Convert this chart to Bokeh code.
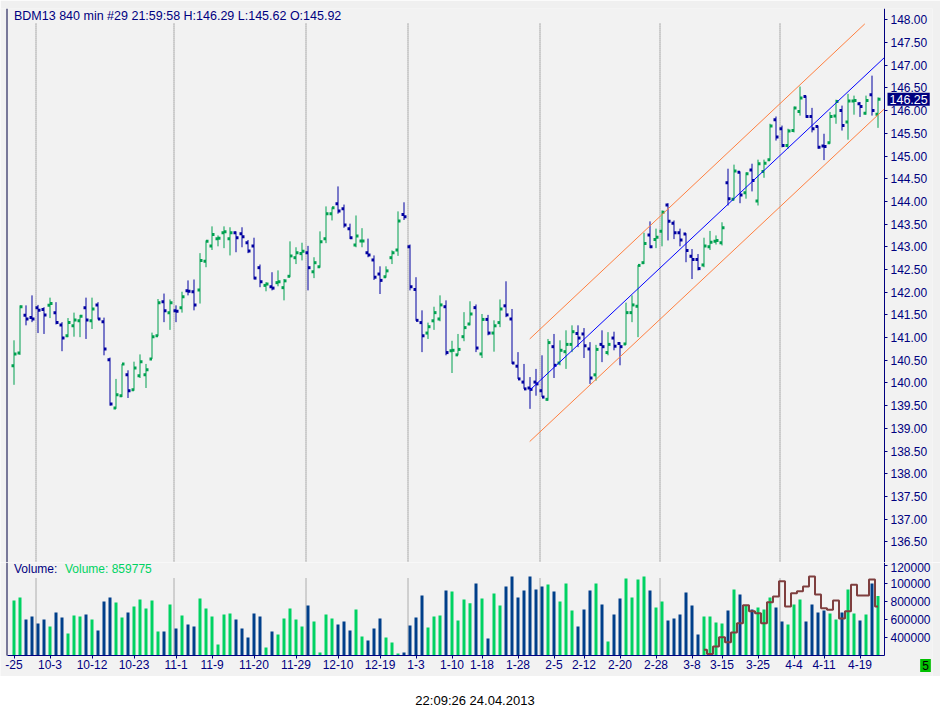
from bokeh.plotting import figure
from bokeh.models import Range1d, FixedTicker, PrintfTickFormatter, Label, Span, ColumnDataSource, Div
from bokeh.transform import dodge
from bokeh.layouts import column
from bokeh.embed import file_html
from bokeh.resources import INLINE

# ---------------- data ----------------
opens = [140.38, 140.66, 141.49, 141.44, 141.66, 141.62, 141.71, 141.55, 141.28, 141.04,
         141.26, 141.37, 141.66, 141.37, 141.72, 141.35, 140.51, 139.45, 139.72, 140.18,
         139.85, 140.16, 140.18, 140.53, 141.04, 141.79, 141.55, 141.59, 141.66, 142.03,
         142.01, 142.05, 142.68, 143.02, 143.18, 143.31, 143.18, 143.31, 143.29, 143.09,
         143.02, 142.54, 142.15, 142.12, 142.21, 142.10, 142.35, 142.76, 142.85, 142.87,
         142.45, 142.56, 143.18, 143.73, 143.95, 143.84, 143.40, 143.04, 143.13, 142.87,
         142.71, 142.40, 142.34, 142.76, 142.93, 143.71, 143.00, 142.06, 141.33, 141.10,
         141.37, 141.41, 141.68, 140.71, 140.62, 141.02, 141.30, 141.66, 140.64, 141.40,
         141.10, 141.33, 141.70, 141.41, 140.37, 140.02, 139.89, 140.02, 139.83, 139.64,
         140.80, 140.44, 140.69, 140.85, 141.09, 141.08, 140.75, 140.18, 140.85, 140.67,
         140.99, 140.87, 140.86, 141.55, 141.69, 142.65, 143.26, 143.16, 143.34, 143.92,
         143.52, 143.31, 143.28, 142.79, 142.72, 142.60, 143.00, 143.12, 143.09, 144.41,
         144.05, 144.64, 144.19, 144.69, 144.01, 144.66, 144.92, 145.80, 145.60, 145.23,
         145.56, 145.98, 146.31, 145.87, 145.65, 145.22, 145.29, 145.88, 146.00, 145.75,
         146.21, 146.15, 145.94, 146.35, 145.92]
highs = [140.94, 141.71, 141.71, 141.93, 141.72, 141.67, 141.88, 141.78, 141.34, 141.43,
         141.55, 141.50, 141.88, 141.88, 141.78, 141.44, 140.56, 140.09, 140.42, 140.28,
         140.47, 140.63, 140.42, 141.11, 141.85, 141.97, 141.84, 141.71, 142.01, 142.26,
         142.28, 142.86, 143.14, 143.45, 143.25, 143.45, 143.43, 143.34, 143.43, 143.15,
         143.20, 142.61, 142.22, 142.44, 142.48, 142.29, 143.12, 142.99, 143.09, 143.02,
         142.77, 143.34, 143.89, 143.87, 144.33, 143.93, 143.51, 143.69, 143.41, 143.18,
         142.81, 142.57, 142.57, 142.92, 143.78, 143.98, 143.05, 142.33, 141.60, 141.33,
         141.68, 141.93, 141.82, 140.93, 141.08, 141.56, 141.80, 141.73, 141.52, 141.50,
         141.38, 141.84, 142.24, 141.63, 140.68, 140.42, 140.13, 140.31, 140.61, 140.97,
         141.08, 140.94, 141.16, 141.27, 141.27, 141.21, 140.90, 140.84, 141.16, 141.12,
         141.13, 140.90, 141.77, 141.93, 142.60, 143.31, 143.56, 143.40, 143.80, 143.96,
         143.58, 143.40, 143.30, 142.95, 142.84, 143.20, 143.35, 143.25, 143.54, 144.72,
         144.81, 144.66, 144.64, 144.83, 144.92, 144.92, 145.71, 145.87, 145.67, 145.60,
         146.09, 146.53, 146.33, 146.06, 145.67, 145.49, 145.97, 146.24, 146.11, 146.37,
         146.33, 146.19, 146.33, 146.77, 146.29]
lows = [139.96, 140.62, 141.27, 141.34, 141.10, 141.08, 141.43, 141.29, 140.70, 141.01,
        141.02, 141.01, 140.97, 141.19, 141.40, 140.61, 139.50, 139.43, 139.69, 139.67,
        139.83, 140.11, 139.89, 140.53, 141.03, 141.34, 141.17, 141.34, 141.55, 141.93,
        141.60, 141.75, 142.55, 142.93, 143.01, 142.97, 142.81, 142.88, 142.99, 142.86,
        142.28, 142.11, 142.02, 142.04, 142.13, 141.82, 142.33, 142.62, 142.70, 142.04,
        142.31, 142.54, 143.08, 143.58, 143.73, 143.42, 143.17, 142.99, 142.99, 142.77,
        142.27, 141.96, 142.32, 142.62, 142.80, 143.59, 142.04, 141.37, 140.68, 140.97,
        141.17, 141.36, 140.61, 140.22, 140.61, 140.92, 141.27, 140.68, 140.55, 141.05,
        140.69, 141.23, 141.45, 140.42, 140.09, 139.87, 139.43, 139.72, 139.69, 139.61,
        140.11, 140.39, 140.31, 140.68, 140.79, 140.55, 139.98, 140.05, 140.46, 140.61,
        140.72, 140.39, 140.84, 141.34, 141.01, 142.62, 142.97, 142.97, 143.01, 143.14,
        143.17, 143.01, 142.66, 142.29, 142.48, 142.55, 142.93, 143.05, 143.03, 143.91,
        144.02, 143.96, 144.06, 144.22, 143.91, 144.52, 144.90, 145.34, 145.19, 145.16,
        145.52, 145.89, 145.84, 145.52, 145.16, 144.91, 145.27, 145.71, 145.56, 145.36,
        145.91, 145.86, 145.91, 145.89, 145.62]
closes = [140.64, 141.68, 141.41, 141.41, 141.60, 141.50, 141.75, 141.33, 140.99, 141.33,
          141.39, 141.47, 141.39, 141.63, 141.41, 140.75, 139.54, 139.74, 140.42, 139.83,
          140.33, 140.47, 140.29, 141.02, 141.77, 141.59, 141.77, 141.58, 141.90, 142.02,
          141.72, 142.70, 143.12, 143.27, 143.19, 143.33, 143.31, 143.20, 143.22, 142.91,
          142.31, 142.23, 142.18, 142.09, 142.23, 142.25, 142.80, 142.87, 142.90, 142.54,
          142.65, 143.11, 143.73, 143.86, 143.79, 143.48, 143.20, 143.24, 143.13, 142.82,
          142.33, 142.26, 142.47, 142.87, 143.57, 143.66, 142.12, 141.38, 141.04, 141.24,
          141.55, 141.72, 140.67, 140.72, 140.74, 141.22, 141.52, 140.77, 141.40, 141.10,
          141.26, 141.63, 141.50, 140.44, 140.09, 139.87, 139.86, 139.98, 139.69, 140.89,
          140.39, 140.72, 140.85, 141.13, 140.99, 140.82, 140.11, 140.74, 140.80, 140.85,
          140.81, 140.80, 141.55, 141.72, 142.59, 143.07, 143.00, 143.21, 143.76, 143.56,
          143.31, 143.15, 142.92, 142.72, 142.52, 143.02, 143.10, 143.14, 143.42, 144.06,
          144.67, 144.14, 144.61, 144.46, 144.83, 144.84, 145.66, 145.42, 145.23, 145.55,
          146.06, 146.28, 145.87, 145.60, 145.19, 145.21, 145.87, 146.20, 145.67, 146.21,
          146.22, 146.09, 146.22, 146.00, 146.25]
volumes = [811000, 844000, 600000, 633000, 556000, 600000, 522000, 678000, 622000, 444000,
           644000, 633000, 656000, 600000, 478000, 800000, 844000, 789000, 622000, 678000,
           744000, 822000, 722000, 811000, 467000, 467000, 767000, 500000, 644000, 544000,
           522000, 833000, 722000, 633000, 322000, 656000, 667000, 600000, 500000, 400000,
           667000, 633000, 289000, 467000, 433000, 611000, 722000, 600000, 522000, 756000,
           578000, 233000, 656000, 611000, 544000, 578000, 478000, 711000, 411000, 367000,
           500000, 611000, 400000, 344000, 222000, 233000, 533000, 622000, 867000, 511000,
           633000, 644000, 922000, 911000, 589000, 822000, 781000, 1000000, 833000, 389000,
           889000, 756000, 967000, 1078000, 844000, 922000, 1078000, 933000, 967000, 989000,
           911000, 800000, 1000000, 700000, 522000, 711000, 922000, 1000000, 767000, 356000,
           656000, 833000, 1056000, 844000, 1044000, 1078000, 922000, 733000, 800000, 589000,
           611000, 656000, 900000, 756000, 433000, 633000, 633000, 567000, 556000, 700000,
           933000, 878000, 756000, 711000, 733000, 711000, 844000, 733000, 578000, 544000,
           767000, 822000, 578000, 767000, 678000, 700000, 667000, 600000, 678000, 933000,
           667000, 589000, 656000, 1000000, 859775]
bars = list(range(len(opens)))

ind_bars = list(range(115, 145))
ind_values = [263000, 218000, 300000, 404000, 348000, 456000, 559000, 759000, 693000, 670000,
              559000, 793000, 856000, 1026000, 744000, 893000, 915000, 967000, 1078000, 878000,
              726000, 707000, 811000, 611000, 693000, 985000, 867000, 867000, 1044000, 744000]

tick_bars = [0, 6, 13, 20, 27, 33, 40, 47, 54, 61, 67, 73, 78, 84, 90, 95, 101, 107, 113, 118, 124, 130, 135, 141]
tick_labels = ["-25", "10-3", "10-12", "10-23", "11-1", "11-9", "11-20", "11-29", "12-10", "12-19",
               "1-3", "1-10", "1-18", "1-28", "2-5", "2-12", "2-20", "2-28", "3-8", "3-15",
               "3-25", "4-4", "4-11", "4-19"]
month_lines = [3.667, 26.667, 48.667, 65.667, 87.667, 107.667, 127.667]

price_ticks = [136.5, 137.0, 137.5, 138.0, 138.5, 139.0, 139.5, 140.0, 140.5, 141.0, 141.5, 142.0,
               142.5, 143.0, 143.5, 144.0, 144.5, 145.0, 145.5, 146.0, 146.5, 147.0, 147.5, 148.0]
vol_ticks = [400000, 600000, 800000, 1000000, 1200000]
vol_tick_labels = ["400000", "600000", "800000", "100000", "120000"]
vol_base = 200000
vol_top = 1233333

chan_x = [85.95, 145.0]
chan_mid = [139.84, 147.16]
chan_low = [138.71, 146.03]
chan_up_x = [85.95, 141.8]
chan_up = [140.97, 147.91]

last_close = 146.25
title_text = "BDM13  840 min   #29 21:59:58 H:146.29 L:145.62 O:145.92"

# ---------------- style ----------------
NAVY = "#000080"
GREEN_P = "#00A050"
BLUE_P = "#0000A0"
GREEN_V = "#00D262"
BLUE_V = "#003F8A"
BG = "#F2F2F2"
BORDER = "#F0F0F0"
DOT = "#6A6A6A"
FONT = "Liberation Sans"

up = [c >= o for o, c in zip(opens, closes)]
src = ColumnDataSource(dict(
    i=bars, o=opens, h=highs, l=lows, c=closes, v=volumes,
    pc=[GREEN_P if u else BLUE_P for u in up],
    vc=[GREEN_V if u else BLUE_V for u in up],
))

# x scale: 6 px per bar, frame spans the whole 932 px width
X0 = -2.25
xr = Range1d(X0, X0 + 932 / 6)
AXIS_X = X0 + 884 / 6        # where the right value axis sits
EDGE_X = X0 + 6.5 / 6        # dark left edge of the panels

# ---------------- price panel ----------------
pa = figure(frame_width=932, frame_height=554, x_range=xr, y_range=Range1d(136.046, 148.249),
            output_backend="svg", toolbar_location=None, x_axis_location=None,
            y_axis_location="right", min_border_left=0, min_border_right=8,
            min_border_top=8, min_border_bottom=0)
pa.background_fill_color = BG
pa.border_fill_color = BORDER
pa.outline_line_color = None
pa.xgrid.grid_line_color = None
pa.ygrid.grid_line_color = None

ya = pa.yaxis[0]
ya.fixed_location = AXIS_X
ya.ticker = FixedTicker(ticks=price_ticks)
ya.formatter = PrintfTickFormatter(format="%.2f")
ya.axis_line_color = NAVY
ya.major_tick_line_color = NAVY
ya.major_tick_out = 3
ya.major_tick_in = 0
ya.minor_tick_line_color = None
ya.major_label_text_color = NAVY
ya.major_label_text_font = FONT
ya.major_label_text_font_size = "12px"
ya.major_label_standoff = 3

pa.segment(x0=month_lines, x1=month_lines, y0=[136.0] * len(month_lines), y1=[147.92] * len(month_lines),
           line_color=DOT, line_dash="1 1", line_width=1)

pa.segment(x0="i", y0="l", x1="i", y1="h", source=src, line_color="pc", line_width=1)
pa.rect(x=dodge("i", -0.2083), y="o", width=0.4167, height=3, height_units="screen",
        source=src, fill_color="pc", line_color=None)
pa.rect(x=dodge("i", 0.2083), y="c", width=0.4167, height=3, height_units="screen",
        source=src, fill_color="pc", line_color=None)

pa.line(chan_x, chan_mid, line_color="#0000FF", line_width=1)
pa.line(chan_x, chan_low, line_color="#FF7F3F", line_width=1)
pa.line(chan_up_x, chan_up, line_color="#FF7F3F", line_width=1)

pa.add_layout(Span(location=EDGE_X, dimension="height", line_color="#000040", line_width=1))
pa.add_layout(Label(x=0.0, y=148.08, text=title_text, text_font=FONT, text_font_size="12.5px",
                    text_color=NAVY, text_baseline="middle"))
pa.add_layout(Label(x=AXIS_X, y=last_close, text="146.25", x_offset=3, text_font=FONT,
                    text_font_size="12.5px", text_color="white", text_baseline="middle",
                    background_fill_color=NAVY, padding=2))

# ---------------- volume panel ----------------
# 11111 volume units per pixel; frame runs from y=562 to y=676, baseline at y=655
pb = figure(frame_width=932, frame_height=114, x_range=xr, y_range=Range1d(-33333, vol_top),
            output_backend="svg", toolbar_location=None, y_axis_location="right",
            x_axis_location="below",
            min_border_left=0, min_border_right=8, min_border_top=0, min_border_bottom=0)
pb.background_fill_color = BG
pb.border_fill_color = BORDER
pb.outline_line_color = None
pb.xgrid.grid_line_color = None
pb.ygrid.grid_line_color = None

yb = pb.yaxis[0]
yb.fixed_location = AXIS_X
yb.bounds = (vol_base, vol_top)
yb.ticker = FixedTicker(ticks=vol_ticks)
yb.major_label_overrides = {t: s for t, s in zip(vol_ticks, vol_tick_labels)}
yb.axis_line_color = NAVY
yb.major_tick_line_color = NAVY
yb.major_tick_out = 3
yb.major_tick_in = 0
yb.minor_tick_line_color = None
yb.major_label_text_color = NAVY
yb.major_label_text_font = FONT
yb.major_label_text_font_size = "12px"
yb.major_label_standoff = 3

xb = pb.xaxis[0]
xb.fixed_location = vol_base
xb.bounds = (EDGE_X, AXIS_X)
xb.ticker = FixedTicker(ticks=tick_bars)
xb.major_label_overrides = {b: s for b, s in zip(tick_bars, tick_labels)}
xb.axis_line_color = NAVY
xb.major_tick_line_color = NAVY
xb.major_tick_out = 3
xb.major_tick_in = 0
xb.minor_tick_line_color = None
xb.major_label_text_color = NAVY
xb.major_label_text_font = FONT
xb.major_label_text_font_size = "12px"
xb.major_label_standoff = 1

pb.segment(x0=month_lines, x1=month_lines, y0=[vol_base] * len(month_lines), y1=[1066000] * len(month_lines),
           line_color=DOT, line_dash="1 1", line_width=1)
pb.vbar(x="i", top="v", bottom=vol_base, width=0.5, source=src, fill_color="vc", line_color=None)
pb.step(ind_bars, ind_values, mode="center", line_color="#7F3F3F", line_width=2)

pb.segment(x0=[EDGE_X], x1=[EDGE_X], y0=[vol_base], y1=[vol_top], line_color="#000040", line_width=1)
pb.add_layout(Label(x=0.0, y=1163000, text="Volume:", text_font=FONT, text_font_size="12px",
                    text_color=NAVY, text_baseline="middle"))
pb.add_layout(Label(x=0.0, y=1163000, x_offset=51, text="Volume: 859775", text_font=FONT,
                    text_font_size="12px", text_color=GREEN_V, text_baseline="middle"))
pb.add_layout(Label(x=AXIS_X, y=vol_base, x_offset=41, y_offset=-10, text="5", text_font=FONT,
                    text_font_size="12px", text_color="black", text_baseline="middle",
                    text_align="center", background_fill_color="#00C000", padding=2))

stamp = Div(text="22:09:26 24.04.2013", width=940, height=40,
            styles={"text-align": "center", "font-family": FONT, "font-size": "13px",
                    "color": "black", "padding-top": "11px", "background-color": "white"})

layout = column(pa, pb, stamp)
open("out.html", "w").write(file_html(layout, INLINE))
